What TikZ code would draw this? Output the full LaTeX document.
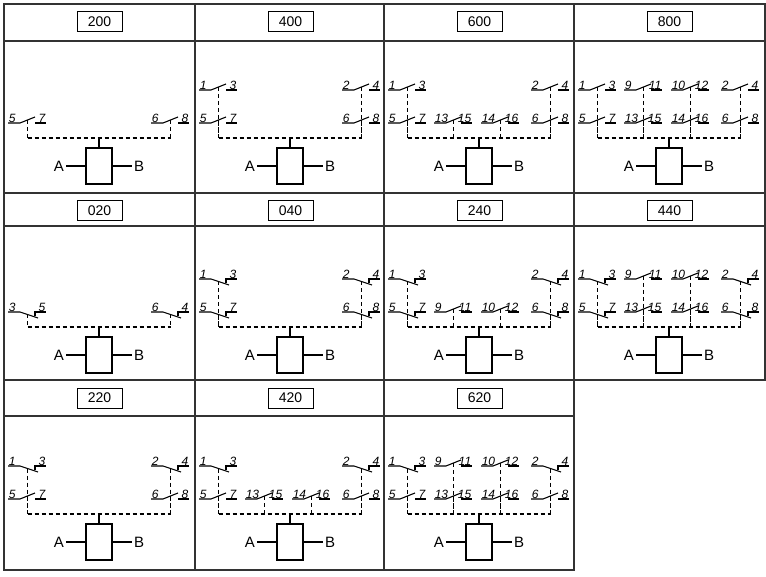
\documentclass[tikz,border=0pt]{standalone}
\usepackage{fontspec}
\setmainfont{Liberation Sans}
\tikzset{
  grid/.style={line width=1.2pt, draw=black!80},
  wire/.style={line width=1.1pt},
  dsh/.style={line width=1.1pt, dash pattern=on 4pt off 3pt},
  lab/.style={font=\fontsize{12}{12}\selectfont\itshape, inner sep=0.6pt},
  ttl/.style={draw, line width=1pt, minimum width=45pt, minimum height=20pt, inner sep=0pt, font=\fontsize{14}{14}\selectfont},
  ab/.style={font=\fontsize{15}{15}\selectfont, inner sep=1pt}
}
\def\colx#1{\ifcase#1\or4\or50\or97\or147\fi}
\newcommand\relaycell[4]{%
  \pgfmathsetmacro\yt{#2+37}
  \node[ttl] (t#3) at (#1+95.5,#2+18) {#3};
  \foreach \c/\r/\t/\a/\b in {#4}{
    \pgfmathsetmacro\sx{#1+\colx{\c}}
    \pgfmathsetmacro\sy{\yt+(\r==1?49:82)}
    \pgfmathsetmacro\dy{\yt+97}
    \if\t o
      \draw[wire] (\sx,\sy)--(\sx+12,\sy)--(\sx+27,\sy-6);
      \draw[wire] (\sx+27,\sy)--(\sx+38,\sy);
      \draw[dsh] (\sx+19.5,\sy-3)--(\sx+19.5,\dy);
    \else
      \draw[wire] (\sx,\sy)--(\sx+12,\sy)--(\sx+30,\sy+6);
      \draw[wire] (\sx+27,\sy+4)--(\sx+27,\sy)--(\sx+38,\sy);
      \draw[dsh] (\sx+19.5,\sy+2.5)--(\sx+19.5,\dy);
    \fi
    \node[lab,anchor=south west] at (\sx,\sy) {\a};
    \node[lab,anchor=south east] at (\sx+38,\sy) {\b};
  }
  \draw[dsh] (#1+23.5,\yt+97)--(#1+166.5,\yt+97);
  \draw[wire] (#1+95,\yt+97)--(#1+95,\yt+107);
  \draw[wire] (#1+82,\yt+107) rectangle (#1+108,\yt+143);
  \draw[wire] (#1+62,\yt+125)--(#1+82,\yt+125) (#1+108,\yt+125)--(#1+128,\yt+125);
  \node[ab,anchor=east] (a#3) at (#1+61,\yt+125) {A};
  \node[ab,anchor=west] (b#3) at (#1+129,\yt+125) {B};
}
\begin{document}
\begin{tikzpicture}[x=1pt,y=-1pt]
\useasboundingbox (0,0) rectangle (766,577);
\fill[white] (0,0) rectangle (766,577);
\foreach \xa/\xb in {4/195,195/384,384/574,574/765}{
  \draw[grid] (\xa,4) rectangle (\xb,41);
  \draw[grid] (\xa,41) rectangle (\xb,193);
  \draw[grid] (\xa,193) rectangle (\xb,226);
  \draw[grid] (\xa,226) rectangle (\xb,380);
}
\foreach \xa/\xb in {4/195,195/384,384/574}{
  \draw[grid] (\xa,380) rectangle (\xb,416);
  \draw[grid] (\xa,416) rectangle (\xb,570);
}
\relaycell{4}{4}{200}{1/2/o/5/7, 4/2/o/6/8}
\relaycell{195}{4}{400}{1/1/o/1/3, 4/1/o/2/4, 1/2/o/5/7, 4/2/o/6/8}
\relaycell{384}{4}{600}{1/1/o/1/3, 4/1/o/2/4, 1/2/o/5/7, 2/2/o/13/15, 3/2/o/14/16, 4/2/o/6/8}
\relaycell{574}{4}{800}{1/1/o/1/3, 2/1/o/9/11, 3/1/o/10/12, 4/1/o/2/4, 1/2/o/5/7, 2/2/o/13/15, 3/2/o/14/16, 4/2/o/6/8}
\relaycell{4}{193}{020}{1/2/c/3/5, 4/2/c/6/4}
\relaycell{195}{193}{040}{1/1/c/1/3, 4/1/c/2/4, 1/2/c/5/7, 4/2/c/6/8}
\relaycell{384}{193}{240}{1/1/c/1/3, 4/1/c/2/4, 1/2/c/5/7, 2/2/o/9/11, 3/2/o/10/12, 4/2/c/6/8}
\relaycell{574}{193}{440}{1/1/c/1/3, 2/1/o/9/11, 3/1/o/10/12, 4/1/c/2/4, 1/2/c/5/7, 2/2/o/13/15, 3/2/o/14/16, 4/2/c/6/8}
\relaycell{4}{380}{220}{1/1/c/1/3, 4/1/c/2/4, 1/2/o/5/7, 4/2/o/6/8}
\relaycell{195}{380}{420}{1/1/c/1/3, 4/1/c/2/4, 1/2/o/5/7, 2/2/o/13/15, 3/2/o/14/16, 4/2/o/6/8}
\relaycell{384}{380}{620}{1/1/c/1/3, 2/1/o/9/11, 3/1/o/10/12, 4/1/c/2/4, 1/2/o/5/7, 2/2/o/13/15, 3/2/o/14/16, 4/2/o/6/8}
\end{tikzpicture}
\end{document}
